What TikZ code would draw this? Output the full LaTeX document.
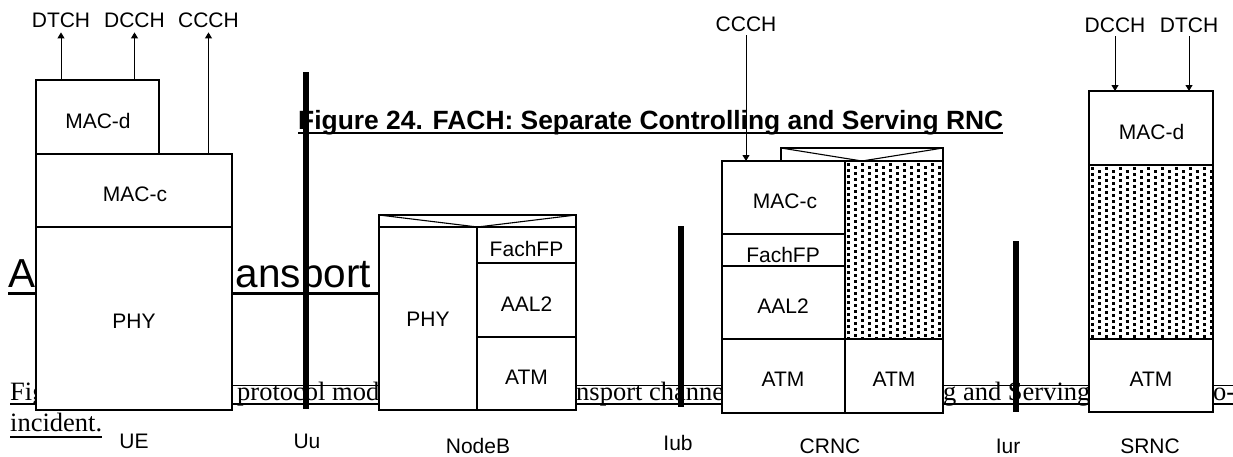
\documentclass[tikz,border=0pt]{standalone}
\usepackage{fontspec}
\setmainfont{Liberation Sans}
\newfontfamily\tnr{Liberation Serif}
\usetikzlibrary{arrows.meta}
\newcommand\bx[5]{\node[box, minimum width={(#4-#2)*1pt}, minimum height={(#5-#3)*1pt}] (#1) at (#2,#3) {};}
\begin{document}
\begin{tikzpicture}[x=1pt,y=-1pt,
  box/.style={draw, line width=1.1pt, fill=white, inner sep=0pt, outer sep=0pt, anchor=north west},
  lbl/.style={font=\fontsize{21}{24}\selectfont, inner sep=0pt, anchor=base},
  capt/.style={font=\tnr\fontsize{26.5}{30}\selectfont, inner sep=0pt, anchor=base west},
  bar/.style={line width=6pt},
  arr/.style={line width=1pt, -{Triangle[length=6pt,width=7pt]}},
  vline/.style={line width=1.1pt}
]
\useasboundingbox (0,0) rectangle (1233,456);
% background document text (partly hidden)
\node[anchor=base west, inner sep=0pt, font=\bfseries\fontsize{26.4}{30}\selectfont] (title) at (298,129.3) {Figure 24. FACH: Separate Controlling and Serving RNC};
\draw[line width=2.5pt] ([yshift=-3.7pt]title.base west) -- ([yshift=-3.7pt]title.base east);
\node[anchor=base west, inner sep=0pt, font=\fontsize{40.5}{44}\selectfont] (hA) at (8,287.3) {A};
\node[anchor=base east, inner sep=0pt, font=\fontsize{40.5}{44}\selectfont] (hB) at (371,287.3) {ansport};
\draw[line width=3pt] (8,293.5) -- (379,293.5);
\node[capt] (c1) at (10,400) {Fig};
\node[capt] (c2) at (237,400) {protocol mod};
\node[capt] (c3) at (576,400) {nsport channe};
\node[capt] (c4) at (943,400) {g and Serving};
\node[capt] (c5) at (1213,400) {o-};
\draw[line width=1.8pt] (10,404.3) -- (1233,404.3);
\draw[line width=1pt] (232,385.7) -- (1233,385.7);
\node[capt] (c6) at (10,431.7) {incident.};
\draw[line width=1.8pt] (10,436.7) -- (101.7,436.7);
% UE
\bx{uemacd}{36}{80}{159}{154}
\bx{uemacc}{36}{154}{232}{227}
\bx{uephy}{36}{227}{232}{410}
% NodeB
\bx{nbband}{379}{215}{576}{227}
\draw[vline] (nbband.north west) -- (nbband.south) -- (nbband.north east);
\bx{nbphy}{379}{227}{477}{410}
\bx{nbfp}{477}{227}{576}{263}
\bx{nbaal}{477}{263}{576}{337}
\bx{nbatm}{477}{337}{576}{410}
% CRNC
\bx{crband}{781}{148}{943}{161}
\draw[vline] (crband.north west) -- (crband.south) -- (crband.north east);
\bx{crmacc}{722}{161}{845}{234}
\bx{crfp}{722}{234}{845}{266}
\bx{craal}{722}{266}{845}{339}
\bx{cratm}{722}{339}{845}{413}
\bx{crdot}{845}{161}{943}{339}
\bx{cratmb}{845}{339}{943}{413}
% SRNC
\bx{srmacd}{1089}{91}{1213}{165}
\bx{srdot}{1089}{165}{1213}{339}
\bx{sratm}{1089}{339}{1213}{412}
% dotted fills
\begin{scope}
  \clip (846,162) rectangle (942,338.5);
  \foreach \i in {0,...,13} { \foreach \j in {0,...,29} {
    \fill ({847+7*\i},{163+6*\j+3*mod(\i,2)}) rectangle ++(3.2,3.2); } }
\end{scope}
\begin{scope}
  \clip (1090,166) rectangle (1212,338.5);
  \foreach \i in {0,...,17} { \foreach \j in {0,...,29} {
    \fill ({1091+7*\i},{167+6*\j+3*mod(\i,2)}) rectangle ++(3.2,3.2); } }
\end{scope}
% interface bars
\coordinate (uuT) at (306,72); \coordinate (uuB) at (306,409);
\coordinate (iubT) at (681,226); \coordinate (iubB) at (681,407);
\coordinate (iurT) at (1016,241); \coordinate (iurB) at (1016,412);
\draw[bar] (uuT) -- (uuB);
\draw[bar] (iubT) -- (iubB);
\draw[bar] (iurT) -- (iurB);
% UE labels
\node[lbl] (ueDT) at (61,27) {DTCH};
\node[lbl] (ueDC) at (134.5,27) {DCCH};
\node[lbl] (ueCC) at (208.5,27) {CCCH};
\draw[arr] (uemacd.north -| ueDT.south) -- ([yshift=-5pt]ueDT.south);
\draw[arr] (uemacd.north -| ueDC.south) -- ([yshift=-5pt]ueDC.south);
\draw[arr] (uemacc.north -| ueCC.south) -- ([yshift=-5pt]ueCC.south);
\node[lbl] (t1) at (98,128) {MAC-d};
\node[lbl] (t2) at (135,201.5) {MAC-c};
\node[lbl] (t3) at (134,328.3) {PHY};
% NodeB labels
\node[lbl] (t4) at (428,326.7) {PHY};
\node[lbl] (t5) at (526.5,256.7) {FachFP};
\node[lbl] (t6) at (526.5,311) {AAL2};
\node[lbl] (t7) at (526.5,384) {ATM};
% CRNC labels
\node[lbl] (crCC) at (746,31) {CCCH};
\draw[arr] ([yshift=-4pt]crCC.south) -- (crmacc.north -| crCC.south);
\node[lbl] (t8) at (785,208.3) {MAC-c};
\node[lbl] (t9) at (783,262.3) {FachFP};
\node[lbl] (t10) at (783,313.3) {AAL2};
\node[lbl] (t11) at (783,386) {ATM};
\node[lbl] (t12) at (894,386) {ATM};
% SRNC labels
\node[lbl] (srDC) at (1115,32) {DCCH};
\node[lbl] (srDT) at (1189,32) {DTCH};
\draw[arr] ([yshift=-4pt]srDC.south) -- (srmacd.north -| srDC.south);
\draw[arr] ([yshift=-4pt]srDT.south) -- (srmacd.north -| srDT.south);
\node[lbl] (t13) at (1151.5,139) {MAC-d};
\node[lbl] (t14) at (1151,386) {ATM};
% bottom labels
\node[lbl] (bUE) at (134,448.3) {UE};
\node[lbl] (bUu) at (307,448.3) {Uu};
\node[lbl] (bNB) at (478,453) {NodeB};
\node[lbl] (bIub) at (678,450.5) {Iub};
\node[lbl] (bCR) at (830,453) {CRNC};
\node[lbl] (bIur) at (1008,453) {Iur};
\node[lbl] (bSR) at (1150,453) {SRNC};
\end{tikzpicture}
\end{document}
